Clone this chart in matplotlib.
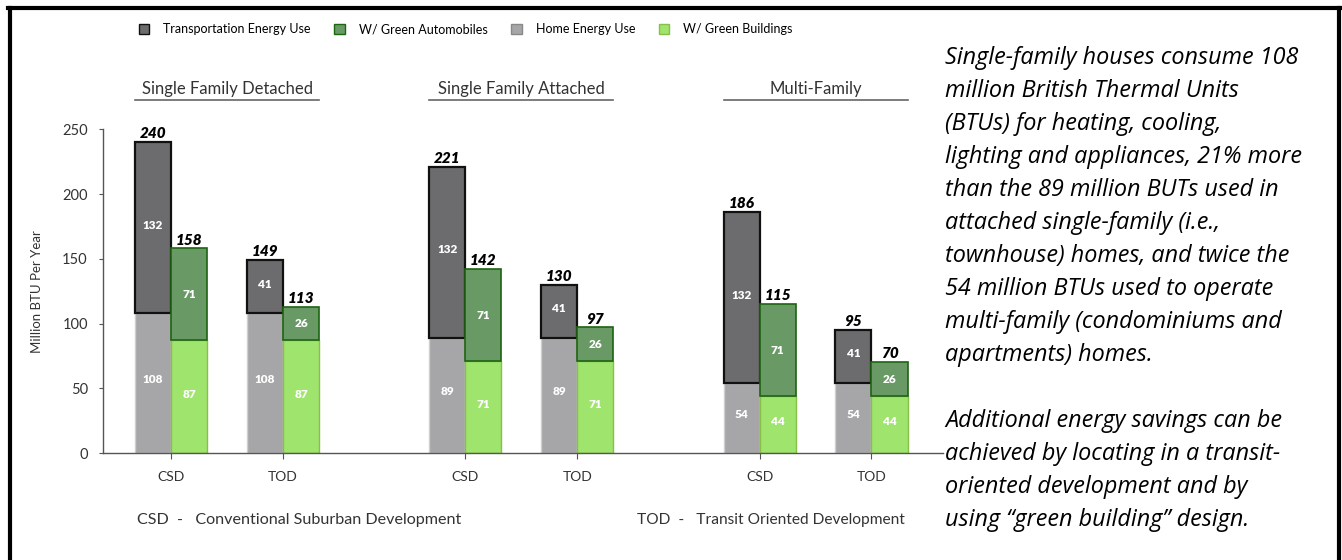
import matplotlib
matplotlib.use("Agg")
import matplotlib.pyplot as plt
from matplotlib.patches import Patch
from matplotlib.lines import Line2D

# data
groups = ["Single Family Detached", "Single Family Attached", "Multi-Family"]
dev_types = ["CSD", "TOD"]
home_energy = [108, 108, 89, 89, 54, 54]
transport_energy = [132, 41, 132, 41, 132, 41]
green_buildings = [87, 87, 71, 71, 44, 44]
green_autos = [71, 26, 71, 26, 71, 26]
yticks = [0, 50, 100, 150, 200, 250]

side_text = [
    "Single-family houses consume 108",
    "million British Thermal Units",
    "(BTUs) for heating, cooling,",
    "lighting and appliances, 21% more",
    "than the 89 million BUTs used in",
    "attached single-family (i.e.,",
    "townhouse) homes, and twice the",
    "54 million BTUs used to operate",
    "multi-family (condominiums and",
    "apartments) homes.",
    "",
    "Additional energy savings can be",
    "achieved by locating in a transit-",
    "oriented development and by",
    "using \u201cgreen building\u201d design.",
]

c_trans, e_trans = "#6c6c6e", "#111111"
c_auto, e_auto = "#699a66", "#1d6410"
c_home, e_home = "#a6a6a9", "#cfcfd2"
c_bldg, e_bldg = "#9fe46c", "#88bf48"
chart_font = ["Lato", "DejaVu Sans"]
text_col = "#333333"

plt.rcParams["font.family"] = chart_font

fig = plt.figure(figsize=(13.42, 5.6), dpi=100)
ax = fig.add_axes([0.0768, 0.191, 0.626, 0.578])

group_gap = 8.17
pair_step = 3.11
w = 1.0
xs = [g * group_gap + k * pair_step for g in range(len(groups)) for k in range(len(dev_types))]
labels = [d for g in groups for d in dev_types]

left = [x - w / 2 for x in xs]
right = [x + w / 2 for x in xs]

ax.bar(left, home_energy, w, color=c_home, edgecolor=e_home, linewidth=1)
ax.bar(left, transport_energy, w, bottom=home_energy, color=c_trans, edgecolor=e_trans, linewidth=1.6)
ax.bar(right, green_buildings, w, color=c_bldg, edgecolor=e_bldg, linewidth=1)
ax.bar(right, green_autos, w, bottom=green_buildings, color=c_auto, edgecolor=e_auto, linewidth=1.2)

inner = dict(ha="center", va="center", color="white", fontsize=8.5, fontweight="heavy")
for i in range(len(xs)):
    top_l = home_energy[i] + transport_energy[i]
    top_r = green_buildings[i] + green_autos[i]
    ax.text(left[i], home_energy[i] / 2 + 3, str(home_energy[i]), **inner)
    ax.text(left[i], home_energy[i] + transport_energy[i] / 2 + 2, str(transport_energy[i]), **inner)
    ax.text(right[i], green_buildings[i] / 2 + 2, str(green_buildings[i]), **inner)
    ax.text(right[i], green_buildings[i] + green_autos[i] / 2, str(green_autos[i]), **inner)
    ax.text(left[i], top_l + 1.5, str(top_l), ha="center", va="bottom", fontsize=11,
            fontweight="heavy", fontstyle="italic", color="black")
    ax.text(right[i], top_r + 1.5, str(top_r), ha="center", va="bottom", fontsize=11,
            fontweight="heavy", fontstyle="italic", color="black")

# group headings with underline
for g, name in enumerate(groups):
    x0 = left[2 * g] - w / 2
    x1 = right[2 * g + 1] + w / 2
    ax.text((x0 + x1) / 2, 281.5, name, ha="center", va="center", fontsize=12, color=text_col,
            clip_on=False)
    ax.plot([x0, x1], [273, 273], color="#666666", lw=1.2, clip_on=False)

ax.set_xlim(-1.89, 21.44)
ax.set_ylim(0, 250)
ax.set_xticks(xs)
ax.set_xticklabels(labels, fontsize=10, color=text_col)
ax.set_yticks(yticks)
ax.set_yticklabels([str(t) for t in yticks], fontsize=10.5, color=text_col)
ax.tick_params(axis="x", length=4, color="#555555", pad=9)
ax.tick_params(axis="y", length=3, color="#555555", pad=8)
ax.set_ylabel("Million BTU Per Year", fontsize=9.5, color=text_col, labelpad=14)
for s in ["top", "right"]:
    ax.spines[s].set_visible(False)
for s in ["left", "bottom"]:
    ax.spines[s].set_color("#555555")
    ax.spines[s].set_linewidth(1)

handles = [
    Patch(facecolor=c_trans, edgecolor=e_trans, label="Transportation Energy Use"),
    Patch(facecolor=c_auto, edgecolor=e_auto, label="W/ Green Automobiles"),
    Patch(facecolor=c_home, edgecolor="#888888", label="Home Energy Use"),
    Patch(facecolor=c_bldg, edgecolor=e_bldg, label="W/ Green Buildings"),
]
fig.legend(handles=handles, loc="center left", bbox_to_anchor=(0.095, 0.948), ncol=4,
           frameon=False, fontsize=9, handlelength=0.85, handleheight=0.85,
           handletextpad=1.1, columnspacing=1.9)

fig.text(0.102, 0.071, "CSD  -   Conventional Suburban Development", fontsize=11.6,
         color=text_col, va="center")
fig.text(0.475, 0.071, "TOD  -   Transit Oriented Development", fontsize=11.2,
         color=text_col, va="center")

# explanatory text on the right
y0 = 1 - 58 / 560
step = 33 / 560
for i, line in enumerate(side_text):
    fig.text(0.7045, y0 - i * step, line, fontsize=16.8, fontstyle="italic",
             family=["Open Sans", "Lato", "DejaVu Sans"], color="black", va="center")

# black frame
fig.add_artist(Line2D([8 / 1342, 1341 / 1342], [1 - 8 / 560, 1 - 8 / 560], color="black", lw=3))
fig.add_artist(Line2D([10 / 1342, 10 / 1342], [0, 1 - 8 / 560], color="black", lw=3))
fig.add_artist(Line2D([1339 / 1342, 1339 / 1342], [0, 1 - 8 / 560], color="black", lw=3))

fig.savefig("out.png", dpi=100)
